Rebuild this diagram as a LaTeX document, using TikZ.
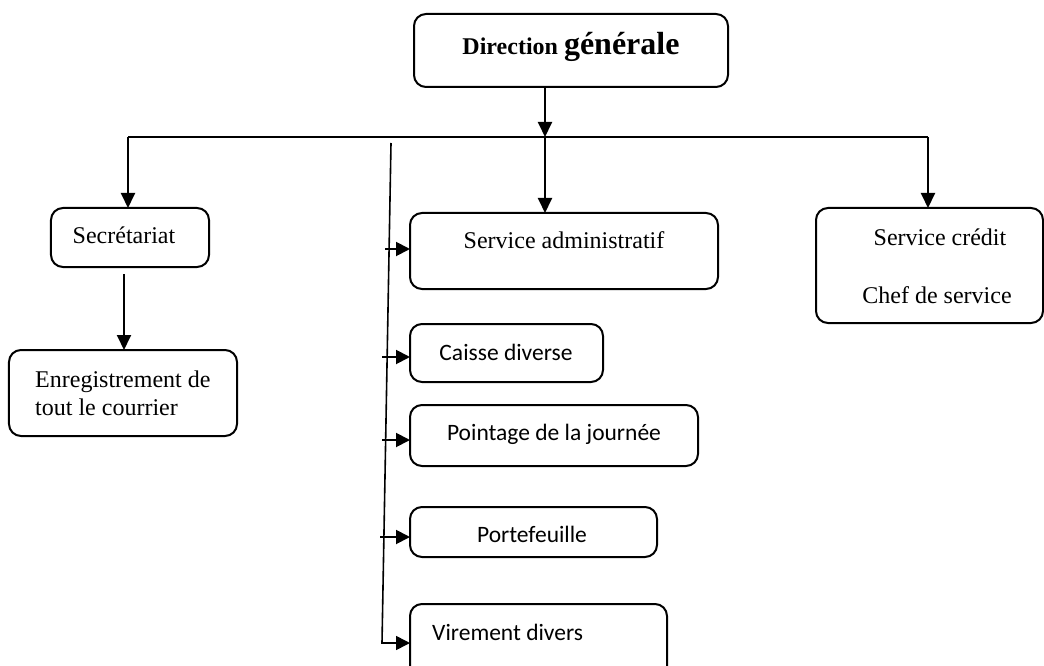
\documentclass[tikz,border=0pt]{standalone}
\usepackage{fontspec}
\setmainfont{Liberation Serif}
\newfontfamily\calibrifont{Carlito}
\usetikzlibrary{arrows.meta}

\tikzset{
  box/.style={draw, rounded corners=12bp, line width=2bp, inner sep=0pt, outer sep=0pt},
  ln/.style={line width=1.9bp},
  thinln/.style={line width=1.5bp},
  arr/.style={ln, -{Triangle[length=15bp,width=14bp]}},
  sarr/.style={ln, -{Triangle[length=14bp,width=14bp]}},
  serif/.style={inner sep=0pt, font=\fontsize{24bp}{28bp}\selectfont},
  sans/.style={inner sep=0pt, font=\calibrifont\fontsize{23.5bp}{28bp}\selectfont},
}

\begin{document}
\begin{tikzpicture}[x=1bp, y=-1bp]
  \clip (0,0) rectangle (1044,666);
  \fill[white] (0,0) rectangle (1044,666);

  % boxes
  \node[box, minimum width=314bp, minimum height=73bp] (dir) at (571,50.5) {};
  \node[box, minimum width=158bp, minimum height=59bp] (sec) at (130,237.5) {};
  \node[box, minimum width=228bp, minimum height=86bp] (enr) at (123,393) {};
  \node[box, minimum width=308bp, minimum height=76bp] (adm) at (564,251) {};
  \node[box, minimum width=227bp, minimum height=115bp] (cre) at (929.5,265.5) {};
  \node[box, minimum width=193bp, minimum height=58bp] (cai) at (506.5,353) {};
  \node[box, minimum width=288bp, minimum height=61bp] (poi) at (554,435.5) {};
  \node[box, minimum width=247bp, minimum height=50bp] (por) at (533.5,532) {};
  \node[box, minimum width=257bp, minimum height=76bp] (vir) at (538.5,642) {};

  % labels
  \node[anchor=base, inner sep=0pt] (tdir) at (571,55)
    {\bfseries\fontsize{24bp}{28bp}\selectfont Direction \fontsize{32bp}{36bp}\selectfont générale};
  \node[serif, anchor=base] (tsec) at (124,243) {Secrétariat};
  \node[serif, anchor=base west] (tenr1) at (35,387) {Enregistrement de};
  \node[serif, anchor=base west] (tenr2) at (35,415) {tout le courrier};
  \node[serif, anchor=base] (tadm) at (564,248) {Service administratif};
  \node[serif, anchor=base] (tcre1) at (940,245) {Service crédit};
  \node[serif, anchor=base] (tcre2) at (937,303) {Chef de service};
  \node[sans, anchor=base] (tcai) at (506,360) {Caisse diverse};
  \node[sans, anchor=base] (tpoi) at (554,440) {Pointage de la journée};
  \node[sans, anchor=base] (tpor) at (532,542) {Portefeuille};
  \node[sans, anchor=base west] (tvir) at (432,640) {Virement divers};

  % top distribution line
  \coordinate (hl) at (128,137);
  \coordinate (hr) at (928,137);
  \coordinate (j) at (545,137);
  \draw[ln] (hl) -- (hr);
  \draw[arr] (j |- dir.south) -- (j);
  \draw[arr] (hl) -- (hl |- sec.north);
  \draw[arr] (j) -- (j |- adm.north);
  \draw[arr] (hr) -- (hr |- cre.north);

  % secretariat to mail registration
  \coordinate (s1) at (124,274);
  \draw[arr] (s1) -- (s1 |- enr.north);

  % administrative service branch
  \coordinate (vt) at (391,143);
  \coordinate (vb) at (382,643);
  \draw[sarr, line width=1.6bp] (vt) -- (vb) -- (vb -| vir.west);
  \coordinate (t1) at (385,249);
  \coordinate (t2) at (382,357);
  \coordinate (t3) at (382,440);
  \coordinate (t4) at (380,537);
  \draw[sarr] (t1) -- (t1 -| adm.west);
  \draw[sarr] (t2) -- (t2 -| cai.west);
  \draw[sarr] (t3) -- (t3 -| poi.west);
  \draw[sarr] (t4) -- (t4 -| por.west);
\end{tikzpicture}
\end{document}
